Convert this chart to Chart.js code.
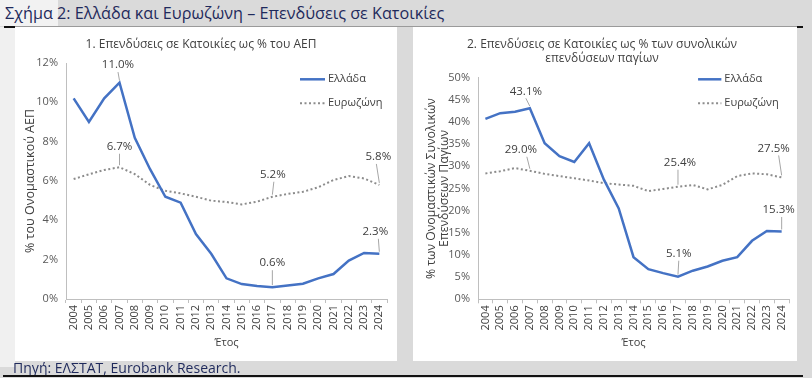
<!DOCTYPE html>
<html><head><meta charset="utf-8">
<script src="https://cdn.jsdelivr.net/npm/chart.js@4.4.1/dist/chart.umd.min.js"></script>
<style>
body{margin:0;width:812px;height:378px;background:#dadada;position:relative;overflow:hidden;font-family:"Open Sans",sans-serif}
.abs{position:absolute}
</style></head><body>
<div class="abs" style="left:0;top:0;width:58px;height:26px;background:#f2f2f2"></div>
<div class="abs" style="left:0;top:27px;width:15px;height:340px;background:#f0f0f0"></div>
<div class="abs" id="mainTitle" style="left:5px;top:2px;font-size:16.2px;color:#1f2a5c;white-space:nowrap;line-height:22px">Σχήμα 2: Ελλάδα και Ευρωζώνη – Επενδύσεις σε Κατοικίες</div>
<div class="abs" style="left:15px;top:26px;width:782px;height:1px;background:#9a9a9a"></div>
<div class="abs" style="left:4px;top:26px;width:11px;height:2px;background:#111"></div>
<div class="abs" style="left:797px;top:26px;width:6px;height:2px;background:#111"></div>
<div class="abs" style="left:15px;top:27px;width:382px;height:334px;background:#fff"><canvas id="c1" width="382" height="334"></canvas></div>
<div class="abs" style="left:413px;top:27px;width:384px;height:334px;background:#fff"><canvas id="c2" width="384" height="334"></canvas></div>
<div class="abs" style="left:13px;top:360px;font-size:14px;color:#1f2a5c;white-space:nowrap;line-height:16px">Πηγή: ΕΛΣΤΑΤ, Eurobank Research.</div>
<div class="abs" style="left:3px;top:375px;width:800px;height:2px;background:#111"></div>
<script>
const years = ['2004','2005','2006','2007','2008','2009','2010','2011','2012','2013','2014','2015','2016','2017','2018','2019','2020','2021','2022','2023','2024'];
const seriesNames = ['Ελλάδα','Ευρωζώνη'];
const greeceGdp = [10.2, 9.0, 10.2, 11.0, 8.2, 6.6, 5.2, 4.9, 3.3, 2.3, 1.05, 0.76, 0.66, 0.6, 0.69, 0.78, 1.05, 1.27, 1.95, 2.34, 2.3];
const euroGdp   = [6.1, 6.34, 6.56, 6.7, 6.35, 5.8, 5.5, 5.37, 5.2, 5.0, 4.93, 4.81, 4.95, 5.2, 5.34, 5.45, 5.68, 6.05, 6.25, 6.13, 5.8];
const greeceGfcf = [40.7, 42.0, 42.3, 43.1, 35.2, 32.3, 31.0, 35.2, 27.0, 20.5, 9.5, 6.8, 5.9, 5.1, 6.45, 7.4, 8.7, 9.5, 13.2, 15.4, 15.3];
const euroGfcf   = [28.4, 28.9, 29.6, 29.0, 28.3, 27.8, 27.3, 26.8, 26.2, 25.9, 25.6, 24.4, 24.9, 25.4, 25.8, 24.8, 25.8, 27.8, 28.4, 28.2, 27.5];
const yTicksGdp = {min:0, max:12, step:2};
const yTicksGfcf = {min:0, max:50, step:5};
const labelledPoints = [[0,3],[1,3],[1,13],[1,20],[0,13],[0,20]]; // [dataset, index]

const FONT = '"Open Sans", sans-serif';
const TXT = '#404040';

const labelsPlugin = {
  id:'pointLabels',
  afterDatasetsDraw(chart, args, opts){
    const ctx = chart.ctx;
    ctx.save();
    ctx.font = '11.5px ' + FONT;
    ctx.textAlign='center'; ctx.textBaseline='middle';
    opts.items.forEach((it,k)=>{
      const [ds, idx] = it;
      const off = opts.offsets[k];
      const el = chart.getDatasetMeta(ds).data[idx];
      const v = chart.data.datasets[ds].data[idx];
      const tx = el.x + off[0], ty = el.y + off[1];
      ctx.strokeStyle='#a6a6a6'; ctx.lineWidth=1;
      ctx.beginPath(); ctx.moveTo(tx + (off[2]||0), ty+7); ctx.lineTo(el.x, el.y-2); ctx.stroke();
      ctx.fillStyle=TXT;
      ctx.fillText(v.toFixed(1)+'%', tx, ty);
    });
    ctx.restore();
  }
};
const legendPlugin = {
  id:'inLegend',
  afterDraw(chart, args, opts){
    const ctx = chart.ctx, r = chart.chartArea.right;
    ctx.save();
    ctx.font = '11px ' + FONT; ctx.textBaseline='middle'; ctx.textAlign='left';
    chart.data.datasets.forEach((d,i)=>{
      const y = opts.ys[i];
      ctx.strokeStyle = d.borderColor; ctx.lineWidth = d.borderWidth;
      ctx.setLineDash(d.borderDash||[]);
      ctx.beginPath(); ctx.moveTo(r+opts.x0, y); ctx.lineTo(r+opts.x1, y); ctx.stroke();
      ctx.setLineDash([]);
      ctx.fillStyle = TXT;
      ctx.fillText(d.label, r+opts.tx, y);
    });
    ctx.restore();
  }
};

function makeChart(id, gr, ez, yt, cfg){
  return new Chart(document.getElementById(id), {
    type:'line',
    data:{labels:years, datasets:[
      {label:seriesNames[0], data:gr, borderColor:'#4472c4', borderWidth:2.5, pointRadius:0, tension:0, fill:false},
      {label:seriesNames[1], data:ez, borderColor:'#8c8c8c', borderWidth:2, borderDash:[2,2.5], pointRadius:0, tension:0, fill:false}
    ]},
    options:{
      responsive:false, animation:false, devicePixelRatio:1,
      layout:{padding:{left:0,right:cfg.padRight,top:0,bottom:cfg.padBottom}},
      plugins:{
        legend:{display:false}, tooltip:{enabled:false},
        title:{display:true, text:cfg.title, color:TXT, font:{family:FONT,size:12,weight:'normal',lineHeight:1.2}, padding:{top:10,bottom:cfg.titleBottom}},
        pointLabels:{items:labelledPoints, offsets:cfg.offsets},
        inLegend:{ys:[52.3,76.3], x0:cfg.lg[0], x1:cfg.lg[1], tx:cfg.lg[2]}
      },
      scales:{
        x:{type:'category', offset:true,
           grid:{display:true, drawOnChartArea:false, drawTicks:true, tickLength:4, offset:true, color:'#bfbfbf'},
           border:{display:true, color:'#bfbfbf'},
           ticks:{autoSkip:false, minRotation:90, maxRotation:90, padding:2, color:TXT, font:{family:FONT,size:11}},
           title:{display:true, text:'Έτος', color:TXT, font:{family:FONT,size:11,lineHeight:1.2}, padding:{top:4,bottom:4}},
           afterFit(s){ s.height = cfg.xH; }
        },
        y:{min:yt.min, max:yt.max,
           grid:{display:false, drawTicks:false},
           border:{display:true, color:'#bfbfbf'},
           ticks:{stepSize:yt.step, padding:8, color:'#595959', font:{family:FONT,size:11}, callback:v=>v+'%'},
           title:{display:true, text:cfg.yTitle, color:TXT, font:{family:FONT,size:cfg.yTitleSize,lineHeight:cfg.yTitleLH}, padding:{top:cfg.yTitlePad,bottom:0}},
           afterFit(s){ s.width = cfg.yW; }
        }
      }
    },
    plugins:[labelsPlugin, legendPlugin]
  });
}

makeChart('c1', greeceGdp, euroGdp, yTicksGdp, {
  title:'1. Επενδύσεις σε Κατοικίες ως % του ΑΕΠ', titleBottom:11.6,
  padRight:10, padBottom:7.7, xH:54.3, yW:51,
  yTitle:'% του Ονομαστικού ΑΕΠ', yTitlePad:8, yTitleSize:12.5, yTitleLH:1.2,
  lg:[-87,-62,-59],
  offsets:[[-1.5,-17.6],[0,-20.5],[0.5,-22,1],[-1,-28,-2],[0,-24],[-4,-22,3]]
});
makeChart('c2', greeceGfcf, euroGfcf, yTicksGfcf, {
  title:['2. Επενδύσεις σε Κατοικίες ως % των συνολικών','επενδύσεων παγίων'], titleBottom:11.9,
  padRight:6, padBottom:7.7, xH:54, yW:65,
  yTitle:['% των Ονομαστικών Συνολικών','Επενδύσεων Παγίων'], yTitlePad:12.5, yTitleSize:12.2, yTitleLH:1.02,
  lg:[-91,-67.7,-64.7],
  offsets:[[-4,-17],[-9,-21,6],[2,-24,-2],[-8,-29,5],[0.8,-23],[-3,-21.5,3]]
});
</script>
</body></html>
